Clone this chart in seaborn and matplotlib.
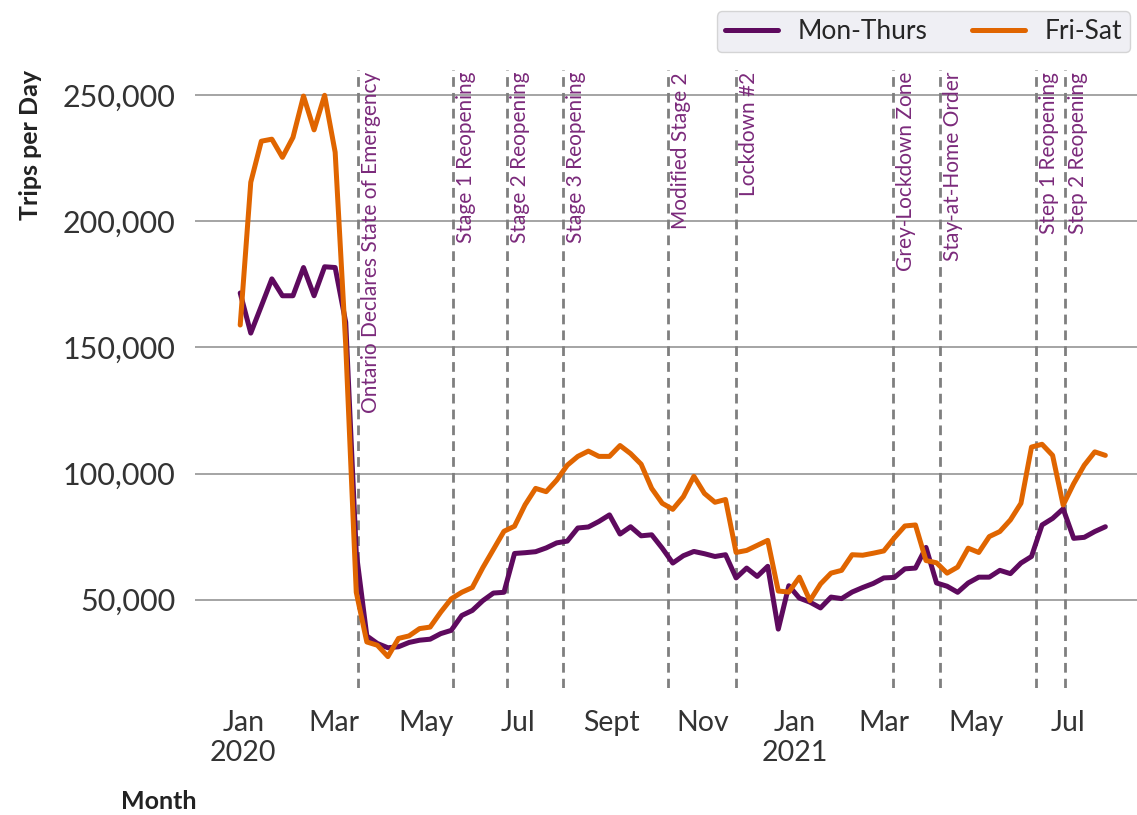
import pandas as pd
import matplotlib.pyplot as plt
import matplotlib.transforms as mtransforms
import matplotlib.ticker as mticker
import seaborn as sns

sns.set_theme(style="whitegrid")
plt.rcParams["font.family"] = ["Lato", "DejaVu Sans"]

# 週ごとの平均トリップ数
week_start = pd.date_range("2019-12-30", periods=83, freq="7D")

mon_thurs = [
    171600, 155700, 166400, 177200, 170500, 170500, 181700, 170500, 182000, 181700,
    160000, 68600, 35600, 32600, 30900, 31300, 33000, 33900, 34300, 36500,
    37800, 43700, 45700, 49600, 52600, 52900, 68300, 68600, 69000, 70500,
    72500, 73200, 78400, 78800, 81000, 83600, 76000, 78900, 75300, 75700,
    70400, 64500, 67400, 69100, 68200, 67100, 67800, 58600, 62500, 59200,
    63200, 38300, 55500, 50600, 49000, 46700, 51000, 50400, 53000, 54800,
    56400, 58600, 58800, 62200, 62500, 70700, 56600, 55300, 52900, 56600,
    58900, 58900, 61600, 60300, 64500, 67100, 79600, 82200, 86000, 74300,
    74700, 77000, 78900,
]

fri_sat = [
    158900, 215500, 231800, 232600, 225400, 233300, 249700, 236300, 250000, 227400,
    151000, 52900, 33200, 31900, 27400, 34600, 35600, 38500, 39100, 45000,
    50300, 52900, 54800, 62700, 69900, 77100, 79100, 87600, 94100, 92800,
    97400, 103300, 106800, 108900, 106800, 106800, 111100, 107900, 103700, 94100,
    88200, 85800, 90800, 98900, 92100, 88600, 89700, 68700, 69500, 71500,
    73500, 53400, 53000, 58900, 49600, 56200, 60500, 61600, 67800, 67600,
    68400, 69300, 74500, 79200, 79600, 65500, 64600, 60500, 62900, 70400,
    68700, 75000, 77000, 81600, 88200, 110500, 111600, 107200, 87500, 96000,
    103300, 108600, 107200,
]

event_dates = pd.to_datetime([
    "2020-03-17", "2020-05-19", "2020-06-24", "2020-07-31", "2020-10-09",
    "2020-11-23", "2021-03-07", "2021-04-07", "2021-06-10", "2021-06-29",
])
event_labels = [
    "Ontario Declares State of Emergency", "Stage 1 Reopening", "Stage 2 Reopening",
    "Stage 3 Reopening", "Modified Stage 2", "Lockdown #2", "Grey-Lockdown Zone",
    "Stay-at-Home Order", "Step 1 Reopening", "Step 2 Reopening",
]

tick_dates = pd.to_datetime([
    "2020-01-01", "2020-03-01", "2020-05-01", "2020-07-01", "2020-09-01", "2020-11-01",
    "2021-01-01", "2021-03-01", "2021-05-01", "2021-07-01",
])
tick_labels = ["Jan\n2020", "Mar", "May", "Jul", "Sept", "Nov", "Jan\n2021", "Mar", "May", "Jul"]

series_names = ["Mon-Thurs", "Fri-Sat"]
colors = {"Mon-Thurs": "#5e0a5e", "Fri-Sat": "#e06500"}

df = pd.concat([
    pd.DataFrame({"week": week_start, "trips": mon_thurs, "days": series_names[0]}),
    pd.DataFrame({"week": week_start, "trips": fri_sat, "days": series_names[1]}),
])

fig = plt.figure(figsize=(11.37, 8.15), dpi=100)
ax = fig.add_axes([0.1715, 0.156, 0.8285, 0.758])

sns.lineplot(data=df, x="week", y="trips", hue="days", palette=colors,
             linewidth=3.6, ax=ax, legend=True)

# イベントの縦線とラベル
trans = mtransforms.blended_transform_factory(ax.transData, ax.transAxes)
for d, lab in zip(event_dates, event_labels):
    ax.axvline(d, color="#7f7f7f", linewidth=2, linestyle=(0, (3.5, 2.2)), zorder=1)
    ax.text(d + pd.Timedelta(days=2), 0.997, lab, transform=trans, rotation=90,
            ha="left", va="top", fontsize=15, color="#7b2a7b")

ax.set_ylim(15000, 260000)
ax.set_xlim(pd.Timestamp("2019-11-30"), pd.Timestamp("2021-08-16"))
ax.set_yticks([50000, 100000, 150000, 200000, 250000])
ax.yaxis.set_major_formatter(mticker.StrMethodFormatter("{x:,.0f}"))
ax.set_xticks(tick_dates)
ax.set_xticklabels(tick_labels)

ax.grid(axis="x", visible=False)
ax.grid(axis="y", color="#8c8c8c", linewidth=1.1)
for s in ax.spines.values():
    s.set_visible(False)
ax.tick_params(axis="both", length=0, colors="#333333")
ax.tick_params(axis="y", pad=14, labelsize=22)
ax.tick_params(axis="x", pad=16, labelsize=20.5)

ax.set_xlabel("Month", fontsize=18, fontweight="bold", color="#222222", va="center")
ax.set_ylabel("Trips per Day", fontsize=18, fontweight="bold", color="#222222", va="center")
ax.xaxis.set_label_coords(-0.039, -0.184)
ax.yaxis.set_label_coords(-0.175, 0.879)

# 凡例は上部右側
handles, labels = ax.get_legend_handles_labels()
ax.get_legend().remove()
fig.legend(handles, labels, loc="lower right", bbox_to_anchor=(0.994, 0.936),
           ncol=2, fontsize=19, frameon=True, facecolor="#ebebf2", edgecolor="#cccccc",
           handlelength=2.0, handletextpad=0.75, columnspacing=1.7, borderaxespad=0,
           borderpad=0.3, fancybox=True)

fig.savefig("out.png", dpi=100)
